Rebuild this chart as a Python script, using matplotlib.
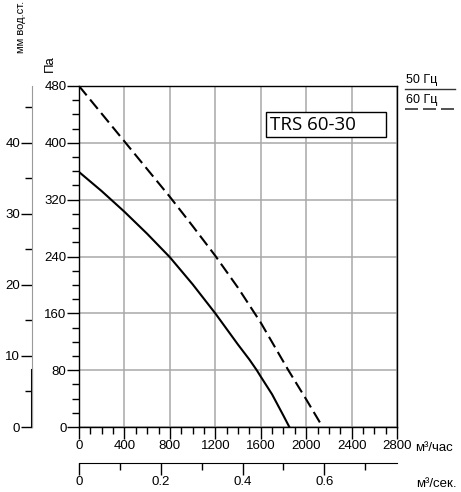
import matplotlib
matplotlib.use("Agg")
import matplotlib.pyplot as plt
from matplotlib.lines import Line2D
from matplotlib.patches import Rectangle
from matplotlib.ticker import MultipleLocator

plt.rcParams['font.family'] = ['Liberation Sans', 'DejaVu Sans']

W, H = 461, 492

# curves (flow m3/h, pressure Pa)
flow_50 = [0, 200, 400, 600, 800, 1000, 1200, 1400, 1500, 1565, 1600, 1700, 1800, 1852]
press_50 = [359, 332, 303, 272, 239, 201, 160, 116, 95, 80, 71, 46, 16, 0]
flow_60 = [0, 200, 400, 600, 800, 1000, 1200, 1400, 1600, 1843, 2000, 2145]
press_60 = [480, 441, 402, 363, 324, 283, 241, 196, 147, 80, 39, 0]

pa_ticks = [0, 80, 160, 240, 320, 400, 480]
flow_ticks = [0, 400, 800, 1200, 1600, 2000, 2400, 2800]
mm_ticks = [0, 10, 20, 30, 40]
sec_ticks = [0, 0.2, 0.4, 0.6]
sec_labels = ['0', '0.2', '0.4', '0.6']


def fx(px):
    return px / W


def fy(py):
    return 1 - py / H


fig = plt.figure(figsize=(W / 100, H / 100), dpi=100)

# main chart
ax = fig.add_axes([fx(79), fy(427), 318 / W, 341 / H])
ax.plot(flow_50, press_50, color='black', lw=1.5)
ax.plot(flow_60, press_60, color='black', lw=1.5, dashes=(5.8, 2.6))
ax.set_xlim(0, 2800)
ax.set_ylim(0, 480)
ax.set_xticks(flow_ticks)
ax.set_yticks(pa_ticks)
ax.xaxis.set_minor_locator(MultipleLocator(100))
ax.yaxis.set_minor_locator(MultipleLocator(20))
ax.grid(True, which='major', color='#a8a8a8', lw=1.1)
ax.tick_params(which='major', length=8.5, width=1, labelsize=9.5, pad=1)
ax.tick_params(which='minor', length=5, width=1)
ax.tick_params(axis='y', pad=0.5)
for s in ax.spines.values():
    s.set_linewidth(1)

# mm water column axis
ax_mm = fig.add_axes([fx(32), fy(427), 0.0001, 341 / H])
ax_mm.patch.set_visible(False)
ax_mm.set_ylim(0, 48)
for s in ['top', 'right', 'bottom']:
    ax_mm.spines[s].set_visible(False)
ax_mm.spines['left'].set_color('#9a9a9a')
ax_mm.set_xticks([])
ax_mm.set_yticks(mm_ticks)
ax_mm.yaxis.set_minor_locator(MultipleLocator(5))
ax_mm.tick_params(which='major', length=8, width=1, labelsize=9.5, pad=0.5)
ax_mm.tick_params(which='minor', length=5, width=1)
ax_mm.plot([0, 0], [0, 8], color='black', lw=1.5, clip_on=False)

# m3/s axis
ax_s = fig.add_axes([fx(79), fy(463), 318 / W, 0.0001])
ax_s.patch.set_visible(False)
ax_s.set_xlim(0, 2800 / 3600)
for s in ['top', 'right', 'left']:
    ax_s.spines[s].set_visible(False)
ax_s.set_yticks([])
ax_s.set_xticks(sec_ticks)
ax_s.set_xticklabels(sec_labels)
ax_s.xaxis.set_minor_locator(MultipleLocator(0.1))
ax_s.tick_params(which='major', length=8.5, width=1, labelsize=9.5, pad=1)
ax_s.tick_params(which='minor', length=5, width=1)

# axis titles and units
fig.text(fx(21), fy(27), 'мм вод.ст.', rotation=90, ha='center', va='center', fontsize=8)
fig.text(fx(50), fy(64), 'Па', rotation=90, ha='center', va='center', fontsize=9.5)
fig.text(fx(415), fy(451), 'м³/час', ha='left', va='baseline', fontsize=9.5)
fig.text(fx(416), fy(487), 'м³/сек.', ha='left', va='baseline', fontsize=9.5)

# legend
fig.text(fx(406), fy(83), '50 Гц', ha='left', va='baseline', fontsize=9)
fig.add_artist(Line2D([fx(405), fx(455)], [fy(89), fy(89)], color='#333333', lw=1))
fig.text(fx(406), fy(103), '60 Гц', ha='left', va='baseline', fontsize=9)
fig.add_artist(Line2D([fx(405), fx(455)], [fy(109), fy(109)], color='#333333', lw=1.2,
                      dashes=(7.8, 3)))

# model box
fig.add_artist(Rectangle((fx(266), fy(137)), 120 / W, 25 / H, facecolor='white',
                         edgecolor='black', lw=1, transform=fig.transFigure))
fig.text(fx(270), fy(125), 'TRS 60-30', family='Open Sans', fontsize=13.5,
         ha='left', va='center')

fig.savefig('out.png', dpi=100)
